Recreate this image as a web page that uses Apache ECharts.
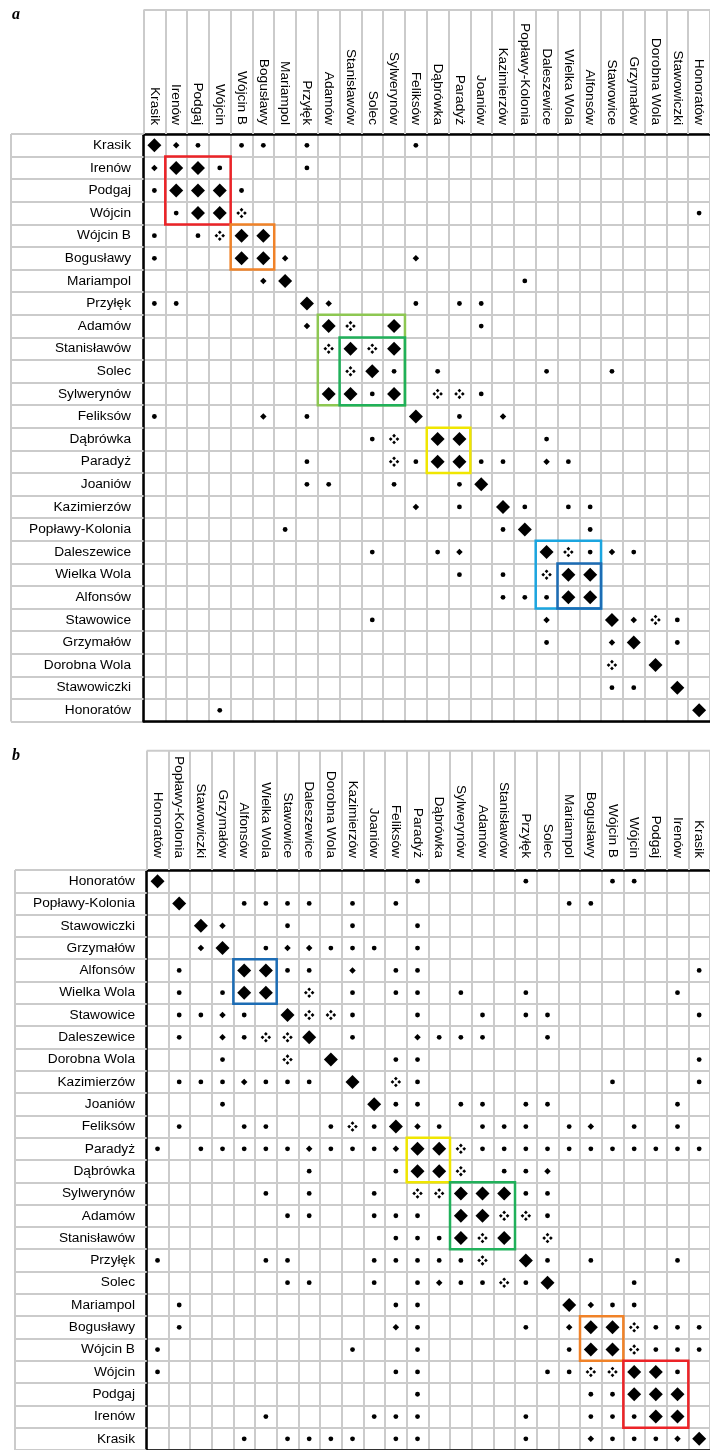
<!DOCTYPE html>
<html><head><meta charset="utf-8">
<script src="https://cdn.jsdelivr.net/npm/echarts@6/dist/echarts.min.js"></script>
<style>html,body{margin:0;padding:0;background:#fff}#c{width:710px;height:1450px}</style>
</head><body><div id="c"></div>
<script>
// ---- data ----
const namesA = ['Krasik','Irenów','Podgaj','Wójcin','Wójcin B','Bogusławy','Mariampol','Przyłęk','Adamów','Stanisławów','Solec','Sylwerynów','Feliksów','Dąbrówka','Paradyż','Joaniów','Kazimierzów','Popławy-Kolonia','Daleszewice','Wielka Wola','Alfonsów','Stawowice','Grzymałów','Dorobna Wola','Stawowiczki','Honoratów'];
const namesB = ['Honoratów','Popławy-Kolonia','Stawowiczki','Grzymałów','Alfonsów','Wielka Wola','Stawowice','Daleszewice','Dorobna Wola','Kazimierzów','Joaniów','Feliksów','Paradyż','Dąbrówka','Sylwerynów','Adamów','Stanisławów','Przyłęk','Solec','Mariampol','Bogusławy','Wójcin B','Wójcin','Podgaj','Irenów','Krasik'];
// codes: D = large diamond, d = small diamond, o = dot, q = four-dot cluster, . = empty
const matrixA = [
 "Ddo.o o.o.. ..o.. ..... ..... .",
 "dDDo. ..o.. ..... ..... ..... .",
 "oDDDo ..... ..... ..... ..... .",
 ".oDDq ..... ..... ..... ..... o",
 "o.oqD D.... ..... ..... ..... .",
 "o...D Dd... ..d.. ..... ..... .",
 "..... dD... ..... ..o.. ..... .",
 "oo... ..Dd. ..o.o o.... ..... .",
 "..... ..dDq .D... o.... ..... .",
 "..... ...qD qD... ..... ..... .",
 "..... ....q Do.o. ...o. .o... .",
 "..... ...DD oD.qq o.... ..... .",
 "o.... d.o.. ..D.o .d... ..... .",
 "..... ..... oq.DD ...o. ..... .",
 "..... ..o.. .qoDD oo.do ..... .",
 "..... ..oo. .o..o D.... ..... .",
 "..... ..... ..d.o .Do.o o.... .",
 "..... .o... ..... .oD.. o.... .",
 "..... ..... o..od ...Dq odo.. .",
 "..... ..... ....o .o.qD D.... .",
 "..... ..... ..... .oooD D.... .",
 "..... ..... o.... ...d. .Ddqo .",
 "..... ..... ..... ...o. .dD.o .",
 "..... ..... ..... ..... .q.D. .",
 "..... ..... ..... ..... .oo.D .",
 "...o. ..... ..... ..... ..... D"
];
const matrixB = [
 "D.... ..... ..o.. ..o.. .oo.. .",
 ".D..o ooo.o .o... ....o o.... .",
 "..Dd. .o..o ..o.. ..... ..... .",
 "..dD. oddoo o.o.. ..... ..... .",
 ".o..D Doo.d .oo.. ..... ..... o",
 ".o.oD D.q.o .oo.o ..o.. ....o .",
 ".oodo .Dqqo ..o.. o.oo. ..... o",
 ".o.do qqD.o ..doo o..o. ..... .",
 "...o. .q.D. .oo.. ..... ..... o",
 ".oood ooo.D .qo.. ..... .o... o",
 "...o. ..... Doo.o o.oo. ....o .",
 ".o..o o..oq oDdo. ooo.o d.o.o .",
 "o.ooo oodoo odDDq ooooo ooooo o",
 "..... ..o.. .oDDq .ood. ..... .",
 "..... o.o.. o.qqD DDoo. ..... .",
 "..... .oo.. ooo.D Dqqo. ..... .",
 "..... ..... .oooD qD.q. ..... .",
 "o.... oo... ooooo q.Do. o...o .",
 "..... .oo.. o.odo oqoD. ..o.. .",
 ".o... ..... .oo.. ....D doo.. .",
 ".o... ..... .do.. ..o.d DDqoo o",
 "o.... ....o ..o.. ....o DDqoo o",
 "o.... ..... .oo.. ...oo qqDDo .",
 "..... ..... ..o.. ..... ooDDD .",
 "..... o.... ooo.. ..o.. oooDD .",
 "....o .oooo .oo.. ..o.. doood D"
];
// highlighted clusters (first and last member on the diagonal)
const clustersA = [['Irenów','Wójcin'],['Wójcin B','Bogusławy'],['Adamów','Sylwerynów'],['Stanisławów','Sylwerynów'],['Dąbrówka','Paradyż'],['Daleszewice','Alfonsów'],['Wielka Wola','Alfonsów']];
const clustersB = [['Alfonsów','Wielka Wola'],['Paradyż','Dąbrówka'],['Sylwerynów','Stanisławów'],['Bogusławy','Wójcin B'],['Wójcin','Irenów']];
const panelLetters = ['a','b'];

// ---- styles / layout ----
const clusterColorsA = ['#ec2327','#f08228','#8dc752','#20b05a','#f0e600','#1ba5df','#1c6cb4'];
const clusterColorsB = ['#1c6cb4','#f0e600','#20b05a','#f08228','#ec2327'];
const LAYOUT = [
  {left:143.5, top:134, cw:22.07, rh:22.6, tableLeft:11, headTop:10, yMargin:12.5, xMargin:9, letterY:22},
  {left:146.7, top:870, cw:22.1, rh:22.5, tableLeft:15, headTop:750.7, yMargin:11.7, xMargin:12, letterY:763}
];
const FONT = 'Liberation Sans';
const GRAY = '#cbcbcb';
const QUAD = 'path://M5 0L6.8 1.8L5 3.6L3.2 1.8Z M8.2 3.2L10 5L8.2 6.8L6.4 5Z M5 6.4L6.8 8.2L5 10L3.2 8.2Z M1.8 3.2L3.6 5L1.8 6.8L0 5Z';
const SYM = {
  D:{symbol:'diamond', size:14},
  d:{symbol:'diamond', size:6.5},
  o:{symbol:'circle', size:4.8},
  q:{symbol:QUAD, size:10.5}
};

function build(){
  const panels = [
    {names:namesA, matrix:matrixA, clusters:clustersA, colors:clusterColorsA},
    {names:namesB, matrix:matrixB, clusters:clustersB, colors:clusterColorsB}
  ];
  const grid=[], xAxis=[], yAxis=[], series=[], graphic=[];
  panels.forEach((p,i)=>{
    const L = LAYOUT[i], n = p.names.length;
    grid.push({left:L.left, top:L.top, width:L.cw*n, height:L.rh*n, show:false});
    const lab = {fontFamily:FONT, fontSize:13.7, color:'#000', interval:0, hideOverlap:false};
    xAxis.push({type:'category', gridIndex:i, position:'top', data:p.names, boundaryGap:true,
      axisLine:{show:true, lineStyle:{color:'#000', width:2.5}},
      axisTick:{show:true, length:L.top-L.headTop, interval:0, lineStyle:{color:GRAY, width:2}},
      axisLabel:Object.assign({rotate:90, margin:L.xMargin}, lab),
      splitLine:{show:true, interval:0, lineStyle:{color:GRAY, width:2}}, z:1});
    xAxis.push({type:'category', gridIndex:i, position:'bottom', data:p.names, boundaryGap:true,
      axisLine:{show:true, lineStyle:{color:'#000', width:2.5}},
      axisTick:{show:false}, axisLabel:{show:false}, splitLine:{show:false}, z:2});
    yAxis.push({type:'category', gridIndex:i, inverse:true, data:p.names, boundaryGap:true,
      axisLine:{show:true, lineStyle:{color:'#000', width:2.5}},
      axisTick:{show:true, length:L.left-L.tableLeft, interval:0, lineStyle:{color:GRAY, width:2}},
      axisLabel:Object.assign({margin:L.yMargin}, lab),
      splitLine:{show:true, interval:0, lineStyle:{color:GRAY, width:2}}, z:1});
    const buckets = {D:[], d:[], o:[], q:[]};
    p.matrix.forEach((row,r)=>{
      const cells = row.replace(/ /g,'');
      for(let c=0;c<cells.length;c++){ const k=cells[c]; if(buckets[k]) buckets[k].push([c,r]); }
    });
    Object.keys(buckets).forEach(k=>{
      series.push({type:'scatter', xAxisIndex:2*i, yAxisIndex:i, data:buckets[k],
        symbol:SYM[k].symbol, symbolSize:SYM[k].size, symbolKeepAspect:true,
        itemStyle:{color:'#000', opacity:1}, emphasis:{disabled:true}, silent:true, z:4, clip:false});
    });
    const boxData = p.clusters.map(([a,b])=>{
      const ia=p.names.indexOf(a), ib=p.names.indexOf(b);
      return [ia, ia, ib, ib];
    });
    const cols = p.colors;
    series.push({type:'custom', xAxisIndex:2*i, yAxisIndex:i, data:boxData, silent:true, z:5,
      encode:{x:[0,2], y:[1,3]},
      renderItem:(params, api)=>{
        const a = api.coord([api.value(0), api.value(1)]);
        const b = api.coord([api.value(2), api.value(3)]);
        const s = api.size([1,1]);
        return {type:'rect', shape:{x:a[0]-s[0]/2, y:a[1]-s[1]/2, width:b[0]-a[0]+s[0], height:b[1]-a[1]+s[1]},
          style:{fill:null, stroke:cols[params.dataIndex], lineWidth:2.5}};
      }});
    // table borders outside the cell area
    graphic.push({type:'line', shape:{x1:L.left, y1:L.headTop, x2:L.left+L.cw*n, y2:L.headTop}, style:{stroke:GRAY, lineWidth:2}, silent:true});
    graphic.push({type:'line', shape:{x1:L.tableLeft, y1:L.top, x2:L.tableLeft, y2:L.top+L.rh*n}, style:{stroke:GRAY, lineWidth:2}, silent:true});
    graphic.push({type:'text', left:12, top:L.letterY-15, style:{text:panelLetters[i], font:'italic bold 16px "Liberation Serif"', fill:'#000'}, silent:true});
  });
  return {animation:false, backgroundColor:'#fff', grid, xAxis, yAxis, series, graphic};
}
const chart = echarts.init(document.getElementById('c'), null, {renderer:'canvas'});
chart.setOption(build());
</script></body></html>
